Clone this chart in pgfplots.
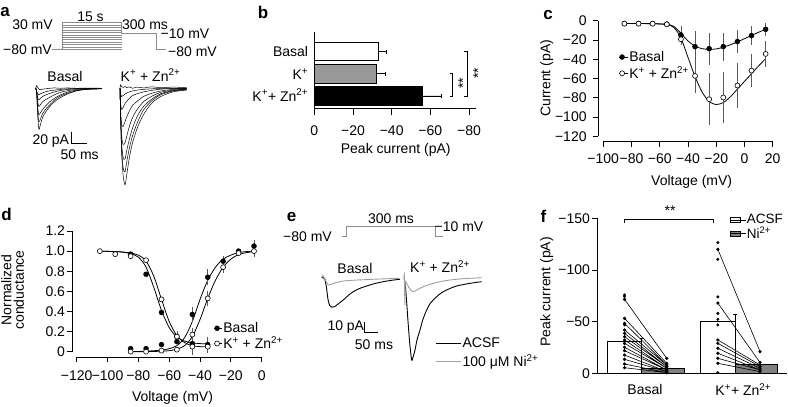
\documentclass[border=0pt]{standalone}
\usepackage{pgfplots}
\pgfplotsset{compat=1.18}
\usepackage{pgfplotstable}
\usepackage{fontspec}
\setmainfont{Liberation Sans}

\definecolor{protogray}{gray}{0.55}
\definecolor{nigray}{gray}{0.62}
\definecolor{kgray}{gray}{0.6}
\definecolor{fgray}{gray}{0.5}
\definecolor{ebgray}{gray}{0.35}

\newcommand{\KZn}{K\textsuperscript{+} + Zn\textsuperscript{2+}}
\newcommand{\KZnb}{K\textsuperscript{+}+ Zn\textsuperscript{2+}}

\pgfplotsset{
  panel/.style={scale only axis, clip=false, anchor=south west,
    axis line style={draw=none}, tick align=outside, major tick length=5.5pt,
    every tick/.style={black, line width=0.9pt}, tick pos=left,
    xticklabel style={inner sep=2pt}, yticklabel style={inner sep=2pt}},
  trace/.style={scale only axis, clip=false, anchor=south west, hide axis},
  fleg/.style={legend image code/.code={\draw[##1] (0pt,-2.5pt) rectangle (10pt,2.5pt); \path (0pt,0pt) -- (15.5pt,0pt);}},
}

% panel a traces: time (ms), current (pA)
\pgfplotstableread{
t B1 B2 B3 B4 B5 B6 B7
0 0 0 0 0 0 0 0
3 -6 -6 -6 -6 -6 -4.5 4.5
6 -43 -37 -31 -22 -15.5 -9.3 1.5
10 -70 -57 -45 -31 -20 -11 -1.5
15 -62 -53 -42 -28 -17 -9.3 -2.5
22 -50 -43 -36 -23 -14 -7.8 -1.5
30 -42 -37 -31 -20 -11.8 -6.2 -1
45 -31 -28 -23 -15.5 -8.7 -4.3 0
60 -23 -20 -17 -11 -6.2 -3.1 0.6
80 -15.5 -13 -11 -6.8 -3.7 -1.9 0
100 -10 -8.7 -6.8 -4.3 -2.2 -0.9 0.6
130 -4.5 -4 -3 -1.9 -0.9 -0.3 0
160 -2 -1.9 -1.5 -0.9 -0.3 0 0.3
210 -1 -0.6 -0.6 0 0 0 0
}\tabAB

\pgfplotstableread{
t K1 K2 K3 K4 K5 K6 K7 K8
0 0 0 0 0 0 0 0 0
2 -46 -46 -46 -43 -37 -25 -9.3 6
5 -108 -102 -93 -81 -62 -36 -14 3
10 -149 -136 -118 -96 -65 -33 -12.4 1.5
16 -165 -143 -121 -93 -57 -26 -10 3
22 -146 -124 -105 -81 -48 -22 -7.8 1
30 -118 -102 -87 -65 -39 -17 -6.2 2.5
40 -93 -81 -68 -50 -29 -12.4 -4.6 0
55 -68 -59 -48 -36 -22 -9.3 -3.1 2
75 -45 -37 -31 -23 -14 -6.2 -1.9 0.6
100 -26 -22 -19 -14 -8.7 -3.7 -0.9 2.5
130 -14 -11 -9.3 -6.8 -4.6 -1.5 -0.3 1
170 -6 -4.6 -4 -3.1 -1.9 -0.6 0 2
212 -3 -2.5 -1.9 -1.5 -0.6 0 0 1
}\tabAK

\begin{document}
\fontsize{14}{16.5}\selectfont
\begin{tikzpicture}
\useasboundingbox (0,0) rectangle (788pt,407pt);

% ---------------- pixel layer: protocols and text ----------------
\begin{axis}[hide axis, scale only axis, width=788pt, height=407pt,
  xmin=0, xmax=788, ymin=0, ymax=407, y dir=reverse,
  at={(0pt,0pt)}, anchor=south west, clip=false]
\addplot[protogray, line width=0.5pt, unbounded coords=jump] table {
x y
62.3 22.7
121.7 22.7
nan nan
62.3 25.1
121.7 25.1
nan nan
62.3 27.5
121.7 27.5
nan nan
62.3 30.0
121.7 30.0
nan nan
62.3 32.4
121.7 32.4
nan nan
62.3 34.8
121.7 34.8
nan nan
62.3 37.2
121.7 37.2
nan nan
62.3 39.6
121.7 39.6
nan nan
62.3 42.1
121.7 42.1
nan nan
62.3 44.5
121.7 44.5
nan nan
62.3 46.9
121.7 46.9
nan nan
62.3 49.3
121.7 49.3
};
\addplot[protogray, line width=0.8pt] coordinates {(51.7,49.3)(62.3,49.3)(62.3,22.7)};
\addplot[protogray, line width=0.8pt] coordinates {(121.7,22.7)(121.7,33.3)(156.7,33.3)(156.7,49.3)(165.7,49.3)};
\addplot[protogray, line width=0.8pt] coordinates {(341.7,236.7)(346,236.7)(346,226.7)(435,226.7)(435,236.7)(442.7,236.7)};

\node[font=\fontsize{17}{20}\selectfont\bfseries] at (axis cs:5,12) {a};
\node at (axis cs:32.5,25) {30 mV};
\node at (axis cs:90.5,17) {15 s};
\node at (axis cs:145,25) {300 ms};
\node at (axis cs:185,34) {−10 mV};
\node at (axis cs:192.5,51.7) {−80 mV};
\node at (axis cs:27.5,50) {−80 mV};
\node at (axis cs:65,76.7) {Basal};
\node at (axis cs:150.5,75) {\KZn};
\node at (axis cs:50.8,141) {20 pA};
\node at (axis cs:79.7,155) {50 ms};
\node[font=\fontsize{17}{20}\selectfont\bfseries] at (axis cs:263,12) {b};
\node[anchor=east, inner sep=0pt] at (axis cs:308.3,51.7) {Basal};
\node[anchor=east, inner sep=0pt] at (axis cs:308.3,74) {K\textsuperscript{+}};
\node[anchor=east, inner sep=0pt] at (axis cs:308.3,95) {\KZnb};
\node at (axis cs:395.7,150) {Peak current (pA)};
\node[rotate=90] at (axis cs:463,83.3) {**};
\node[rotate=90] at (axis cs:478,73.3) {**};
\node[font=\fontsize{17}{20}\selectfont\bfseries] at (axis cs:548,15) {c};
\node[rotate=90] at (axis cs:546.7,78.3) {Current (pA)};
\node at (axis cs:691.7,181.7) {Voltage (mV)};
\node[font=\fontsize{17}{20}\selectfont\bfseries] at (axis cs:6.5,214) {d};
\node[rotate=90, align=center, font=\fontsize{14}{12.5}\selectfont] at (axis cs:12.5,290) {Normalized\\conductance};
\node at (axis cs:172.5,398) {Voltage (mV)};
\node[font=\fontsize{17}{20}\selectfont\bfseries] at (axis cs:291.7,216.7) {e};
\node at (axis cs:307.5,236.7) {−80 mV};
\node at (axis cs:391,218.3) {300 ms};
\node at (axis cs:459,226.7) {−10 mV};
\node at (axis cs:355,268.3) {Basal};
\node at (axis cs:440,266.7) {\KZn};
\node at (axis cs:345.8,326.7) {10 pA};
\node at (axis cs:374,345) {50 ms};
\node[font=\fontsize{17}{20}\selectfont\bfseries] at (axis cs:543.5,216.7) {f};
\node[rotate=90] at (axis cs:546.7,292) {Peak current (pA)};
\node at (axis cs:670,211) {**};
\node at (axis cs:645,389.3) {Basal};
\node at (axis cs:743.3,389.3) {\KZnb};
\end{axis}

% ---------------- panel a traces ----------------
\begin{axis}[trace, at={(35.7pt,216.3pt)}, width=151pt, height=111.2pt,
  xmin=0, xmax=481, ymin=-175, ymax=15]
\pgfplotsinvokeforeach{B1,B2,B3,B4,B5,B6,B7}{
  \addplot[black, line width=0.5pt, smooth, tension=0.45] table[x=t, y=#1] {\tabAB};
}
\pgfplotsinvokeforeach{K1,K2,K3,K4,K5,K6,K7,K8}{
  \addplot[black, line width=0.5pt, smooth, tension=0.45] table[x expr=\thisrow{t}+268.5, y=#1] {\tabAK};
}
\addplot[black, line width=1pt] coordinates {(114.6,-74.2)(114.6,-94)(164.6,-94)};
\end{axis}

% ---------------- panel b ----------------
\begin{axis}[panel, at={(314.3pt,298.7pt)}, width=161.7pt, height=76.6pt,
  x dir=reverse, xmin=-83.6, xmax=0, ymin=-0.554, ymax=2.896, major tick length=7pt,
  xticklabel style={yshift=-8pt},
  xtick={0,-20,-40,-60,-80}, xticklabels={0,−20,−40,−60,−80}, ytick=\empty]
\draw[line width=0.9pt] (axis cs:0,2.896) -- (axis cs:0,-0.554) -- (axis cs:-83.6,-0.554);
\addplot[xbar, bar width=18.5pt, bar shift=0pt, fill=white, draw=black, line width=0.8pt,
  error bars/.cd, x dir=minus, x explicit, error bar style={line width=0.8pt}]
  coordinates {(-33,2) +- (4.4,0)};
\addplot[xbar, bar width=18.5pt, bar shift=0pt, fill=kgray, draw=black, line width=0.8pt,
  error bars/.cd, x dir=minus, x explicit, error bar style={line width=0.8pt}]
  coordinates {(-32.2,1) +- (4.5,0)};
\addplot[xbar, bar width=18.5pt, bar shift=0pt, fill=black, draw=black, line width=0.8pt,
  error bars/.cd, x dir=minus, x explicit, error bar style={line width=0.8pt}]
  coordinates {(-55.8,0) +- (10,0)};
\addplot[black, line width=0.8pt] coordinates {(-70,1)(-71.5,1)(-71.5,0)(-70,0)};
\addplot[black, line width=0.8pt] coordinates {(-77.5,2)(-79.1,2)(-79.1,0)(-77.5,0)};
\end{axis}

% ---------------- panel c ----------------
\begin{axis}[panel, at={(598.3pt,265.3pt)}, width=174.4pt, height=121pt,
  xmin=-103.5, xmax=20, ymin=-125.6, ymax=0,
  xticklabel style={yshift=-4pt}, yticklabel style={xshift=-4pt},
  xtick={-100,-80,-60,-40,-20,0,20}, xticklabels={−100,−80,−60,−40,−20,0,20},
  ytick={-120,-100,-80,-60,-40,-20,0}, yticklabels={−120,−100,−80,−60,−40,−20,0},
  legend style={at={(0.117,0.76)}, anchor=north west, draw=none, fill=none, inner sep=0pt,
    row sep=1pt, nodes={inner sep=1pt}, cells={anchor=west}},
  legend image code/.code={\path (0pt,0pt) -- (9pt,0pt); \draw[#1] plot coordinates {(3pt,0pt)};}]
\draw[line width=0.9pt] (axis cs:-100,-125.6) -- (axis cs:20,-125.6);
\draw[line width=0.9pt] (axis cs:-103.5,-120) -- (axis cs:-103.5,0);
\addplot[black, line width=0.8pt, smooth, forget plot] coordinates {(-85,-3)(-75,-3)(-65,-3.1)(-55,-3.8)(-50,-6)(-45,-13)(-40,-21)(-35,-26.5)(-30,-29)(-25,-29.8)(-20,-29.3)(-15,-27.5)(-10,-25)(-5,-22)(0,-18.7)(5,-15.3)(10,-12)(15,-9)};
\addplot[black, line width=0.8pt, smooth, forget plot] coordinates {(-85,-3)(-75,-3)(-65,-3.1)(-55,-4)(-50,-7)(-45,-18)(-40,-38)(-35,-58)(-30,-74)(-25,-84)(-20,-87)(-15,-85)(-10,-79)(-5,-71)(0,-63)(5,-55)(10,-47)(15,-39.5)};
\addplot[black, mark=none, only marks, forget plot, error bars/.cd, y dir=both, y explicit,
  error bar style={ebgray, line width=0.7pt}, error mark options={ebgray, mark size=3pt, line width=0.7pt}]
  coordinates {(-45,-14.8) +- (0,6) (-35,-26.9) +- (0,13) (-25,-29) +- (0,13.5) (-15,-26.9) +- (0,11.5) (-5,-21.7) +- (0,9) (5,-15.5) +- (0,6.5) (15,-8.9) +- (0,3.5)};
\addplot[black, mark=none, only marks, forget plot, error bars/.cd, y dir=both, y explicit,
  error bar style={ebgray, line width=0.7pt}, error mark options={ebgray, mark size=3pt, line width=0.7pt}]
  coordinates {(-45,-19.3) +- (0,3) (-35,-57.3) +- (0,15) (-25,-81.5) +- (0,24) (-15,-79.7) +- (0,23) (-5,-67.3) +- (0,20) (5,-51.8) +- (0,14) (15,-34.5) +- (0,10)};
\addplot[only marks, mark=*, mark size=2.5pt, black] coordinates {(-85,-3)(-75,-3)(-65,-3)(-55,-3.5)(-45,-14.8)(-35,-26.9)(-25,-29)(-15,-26.9)(-5,-21.7)(5,-15.5)(15,-8.9)};
\addlegendentry{Basal}
\addplot[only marks, mark=*, mark size=2.5pt, mark options={fill=white, draw=black, line width=0.6pt}] coordinates {(-85,-3.1)(-75,-3.1)(-65,-3.1)(-55,-3.8)(-45,-19.3)(-35,-57.3)(-25,-81.5)(-15,-79.7)(-5,-67.3)(5,-51.8)(15,-34.5)};
\addlegendentry{\KZn}
\end{axis}

% ---------------- panel d ----------------
\begin{axis}[panel, at={(72.7pt,50pt)}, width=189pt, height=126pt,
  xmin=-122.6, xmax=0, ymin=-0.053, ymax=1.2,
  xticklabel style={yshift=-6pt},
  xtick={-120,-100,-80,-60,-40,-20,0}, xticklabels={−120,−100,−80,−60,−40,−20,0},
  ytick={0,0.2,0.4,0.6,0.8,1.0,1.2}, yticklabels={0,0.2,0.4,0.6,0.8,1.0,1.2},
  legend style={at={(0.746,0.286)}, anchor=north west, draw=none, fill=none, inner sep=0pt,
    row sep=0pt, nodes={inner sep=1pt}, cells={anchor=west}},
  legend image code/.code={\path (0pt,0pt) -- (8pt,0pt); \draw[#1] plot coordinates {(3pt,0pt)};}]
\draw[line width=0.9pt] (axis cs:-120,-0.053) -- (axis cs:0,-0.053);
\draw[line width=0.9pt] (axis cs:-122.6,0) -- (axis cs:-122.6,1.2);
\addplot[black, line width=0.8pt, smooth, forget plot] coordinates {(-105,1.0)(-95,0.995)(-90,0.99)(-85,0.975)(-80,0.94)(-75,0.84)(-70,0.64)(-65,0.41)(-60,0.24)(-55,0.145)(-50,0.105)(-45,0.088)(-40,0.08)(-35,0.077)};
\addplot[black, line width=0.8pt, smooth, forget plot] coordinates {(-105,1.0)(-95,0.995)(-90,0.99)(-85,0.98)(-80,0.96)(-75,0.9)(-70,0.75)(-65,0.52)(-60,0.3)(-55,0.16)(-50,0.09)(-45,0.06)(-40,0.05)(-35,0.05)};
\addplot[black, line width=0.8pt, smooth, forget plot] coordinates {(-85,0.0)(-75,0.005)(-65,0.015)(-60,0.03)(-55,0.06)(-50,0.14)(-45,0.3)(-40,0.52)(-35,0.71)(-30,0.84)(-25,0.92)(-20,0.96)(-15,0.985)(-10,0.995)(-5,1.0)};
\addplot[black, line width=0.8pt, smooth, forget plot] coordinates {(-85,0.0)(-75,0.0)(-65,0.005)(-60,0.01)(-55,0.025)(-50,0.06)(-45,0.15)(-40,0.32)(-35,0.53)(-30,0.71)(-25,0.84)(-20,0.92)(-15,0.965)(-10,0.985)(-5,0.995)};
\addplot[black, mark=none, only marks, forget plot, error bars/.cd, y dir=both, y explicit,
  error bar style={ebgray, line width=0.7pt}, error mark options={ebgray, mark size=3pt, line width=0.7pt}]
  coordinates {(-45,0.37) +- (0,0.045) (-35,0.74) +- (0,0.05) (-25,0.9) +- (0,0.02) (-5,1.05) +- (0,0.03) (-35,0.07) +- (0,0.05) (-45,0.05) +- (0,0.05) (-45,0.17) +- (0,0.04) (-35,0.53) +- (0,0.045) (-25,0.84) +- (0,0.03) (-5,1.0) +- (0,0.03) (-55,0.15) +- (0,0.03)};
\addplot[only marks, mark=*, mark size=2.5pt, black] coordinates {(-85,0.03)(-75,0.03)(-65,0.07)(-55,0.10)(-45,0.37)(-35,0.74)(-25,0.9)(-15,1.0)(-5,1.05)};
\addlegendentry{Basal}
\addplot[only marks, mark=*, mark size=2.5pt, black, forget plot] coordinates {(-85,0.97)(-75,0.77)(-65,0.39)(-55,0.15)(-45,0.08)(-35,0.07)};
\addplot[only marks, mark=*, mark size=2.5pt, mark options={fill=white, draw=black, line width=0.6pt}] coordinates {(-85,0.0)(-75,0.0)(-65,0.01)(-55,0.02)(-45,0.17)(-35,0.53)(-25,0.84)(-15,0.98)(-5,1.0)};
\addlegendentry{\KZn}
\addplot[only marks, mark=*, mark size=2.5pt, mark options={fill=white, draw=black, line width=0.6pt}, forget plot] coordinates {(-105,1.0)(-95,0.97)(-85,0.95)(-75,0.91)(-65,0.52)(-55,0.15)(-45,0.05)(-35,0.05)};
\end{axis}

% ---------------- panel e traces ----------------
\begin{axis}[trace, at={(321.7pt,41.5pt)}, width=160.7pt, height=93.5pt,
  xmin=0, xmax=560, ymin=-80, ymax=5,
  legend style={at={(0.708,0.313)}, anchor=north west, draw=none, fill=none, inner sep=0pt,
    row sep=3pt, nodes={inner sep=1pt}, cells={anchor=west}},
  legend image code/.code={\draw[#1] (0pt,0pt) -- (21.7pt,0pt); \path (0pt,0pt) -- (25pt,0pt);}]
\addplot[black, line width=0.9pt, smooth, tension=0.4] coordinates {(0,0)(10,-1)(16,-8)(22,-20)(28,-25.5)(35,-27)(45,-26.5)(55,-24.5)(75,-20.5)(95,-15.8)(110,-12.9)(130,-10.2)(157,-7.7)(185,-5.5)(214.6,-3.8)(245,-2.5)(272.8,-1.6)};
\addlegendentry{ACSF}
\addplot[nigray, line width=0.9pt, smooth, tension=0.4] coordinates {(0,0)(4,2)(10,-1)(16,-4)(22,-6.3)(27,-6.8)(35,-6)(45,-5)(75,-3.2)(100,-2.7)(122,-2.3)(150,-2)(180,-1.6)(220,-1.2)(272,-0.7)};
\addlegendentry{100 μM Ni\textsuperscript{2+}}
\addplot[black, line width=0.9pt, smooth, tension=0.4, forget plot] table[x expr=\thisrow{t}+286.8, y=I] {
t I
0 0
5 -8
10 -25
14 -40
20 -60
26.8 -75
32 -72
38.3 -65.9
46 -56
55.7 -47.7
66 -38
79.1 -29.5
90 -24
102 -20.5
120 -16
137 -12.9
160 -10
183.6 -7.7
205 -6.5
230 -5.3
250 -4.5
270.7 -3.8
};
\addplot[nigray, line width=0.9pt, smooth, tension=0.4, forget plot] table[x expr=\thisrow{t}+286.8, y=I] {
t I
0 0
1.5 2
3 -25
4.5 -4
8 -5
15 -8
24 -11.5
32.4 -12.9
42 -11.8
55.7 -9.8
75 -7.5
102 -5.3
130 -3.5
160 -2.3
200 -1.2
240 -0.6
271 -0.2
};
\addplot[black, line width=1pt, forget plot] coordinates {(147.4,-40.2)(147.4,-50.2)(197.4,-50.2)};
\end{axis}

% ---------------- panel f ----------------
\begin{axis}[panel, at={(597.7pt,33.7pt)}, width=189.6pt, height=155pt,
  xmin=-0.4716, xmax=1.5606, ymin=-150, ymax=0, y dir=reverse,
  xtick=\empty, ytick={-150,-100,-50,0}, yticklabels={−150,−100,−50,0},
  legend style={at={(0.697,1.03)}, anchor=north west, draw=none, fill=none, inner sep=0pt,
    row sep=0pt, nodes={inner sep=0.5pt}, cells={anchor=west},
    font=\fontsize{13.5}{15}\selectfont}]
\draw[line width=0.9pt] (axis cs:-0.4716,-150) -- (axis cs:-0.4716,0) -- (axis cs:1.5606,0);
\addplot[ybar, bar width=34.4pt, bar shift=-17.2pt, fill=white, draw=black, line width=0.8pt, fleg,
  error bars/.cd, y dir=minus, y explicit, error bar style={line width=0.8pt}]
  coordinates {(0,-31.3) +- (0,3) (1,-50.6) +- (0,7)};
\addlegendentry{ACSF}
\addplot[ybar, bar width=42.2pt, bar shift=21.1pt, fill=fgray, draw=black, line width=0.8pt, fleg]
  coordinates {(0,-4.3) (1,-8.7)};
\addlegendentry{Ni\textsuperscript{2+}}
\addplot[black, line width=0.6pt, mark=*, mark size=1.3pt, unbounded coords=jump, forget plot] table {
x y
-0.184 -71.6
0.268 -14.5
nan nan
-0.184 -53.2
0.268 -9.7
nan nan
-0.184 -48.4
0.268 -8.1
nan nan
-0.184 -41.9
0.268 -8.1
nan nan
-0.184 -38.7
0.268 -6.5
nan nan
-0.184 -35.4
0.268 -6.5
nan nan
-0.184 -32.2
0.268 -4.9
nan nan
-0.184 -29
0.268 -4.9
nan nan
-0.184 -25.2
0.268 -3.3
nan nan
-0.184 -21.9
0.268 -3.3
nan nan
-0.184 -17.7
0.268 -1.7
nan nan
-0.184 -13.5
0.268 -1.7
nan nan
-0.184 -9
0.268 -0.7
nan nan
-0.184 -5.4
0.268 -0.7
nan nan
0.816 -120
1.268 -21
nan nan
0.816 -68
1.268 -10.5
nan nan
0.816 -32.3
1.268 -8
nan nan
0.816 -29
1.268 -6.5
nan nan
0.816 -24.2
1.268 -4.9
nan nan
0.816 -19.4
1.268 -3.3
nan nan
0.816 -14.5
1.268 -3.3
nan nan
0.816 -9.7
1.268 -1.6
};
\addplot[only marks, mark=*, mark size=1.3pt, black, forget plot] coordinates {(-0.184,-75.8)(-0.184,-74.2)(-0.184,-46.8)(0.816,-126.5)(0.816,-110.3)(0.816,-74)(0.816,-58)(0.816,-52.3)(0.816,-46.8)(0.816,-0.6)};
\addplot[black, line width=0.8pt, forget plot] coordinates {(-0.184,-145.2)(-0.184,-149)(0.77,-149)(0.77,-145.2)};
\end{axis}
\end{tikzpicture}
\end{document}
